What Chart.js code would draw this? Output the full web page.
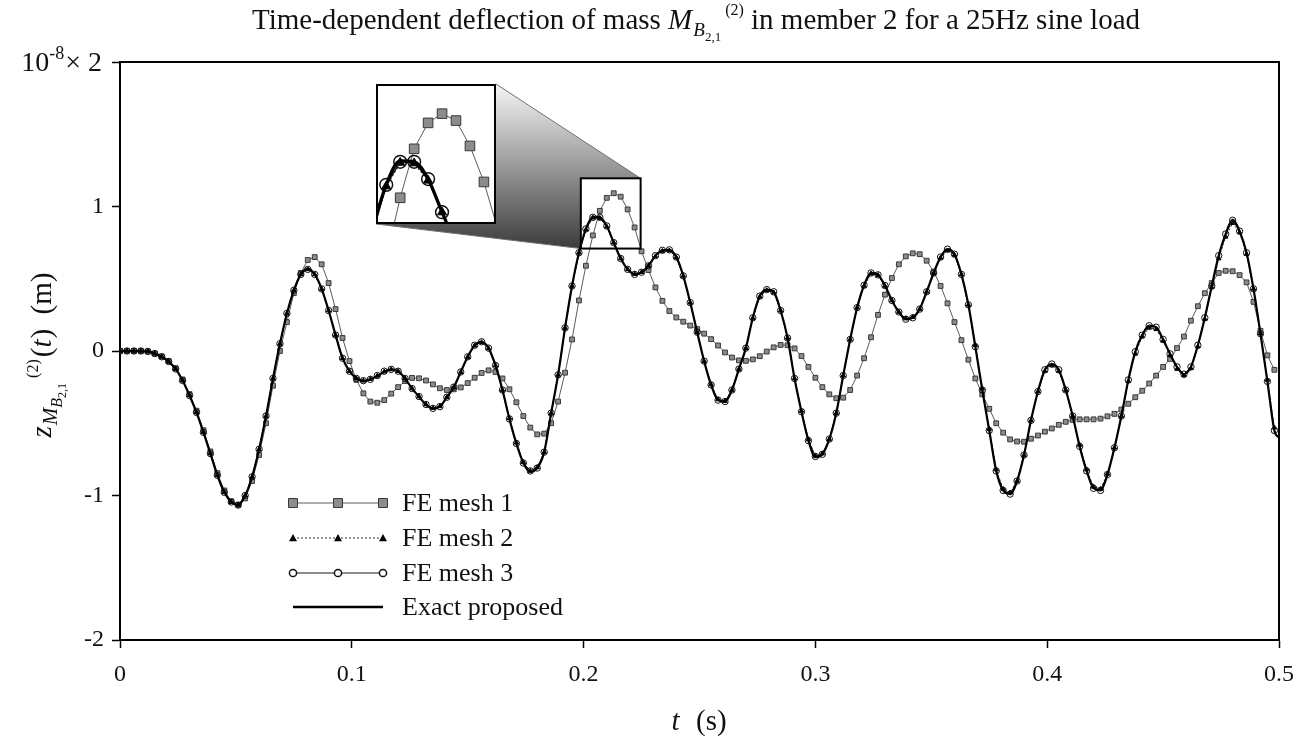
<!DOCTYPE html>
<html>
<head>
<meta charset="utf-8">
<script src="https://cdn.jsdelivr.net/npm/chart.js@4.4.1/dist/chart.umd.min.js"></script>
<style>
  html, body { margin: 0; padding: 0; background: #fff; }
  #wrap { position: relative; width: 1306px; height: 743px; overflow: hidden; }
  #main { position: absolute; left: 0; top: 0; }
  #zoomBox { position: absolute; background: #fff; }
  #zoomBox canvas { display: block; }
</style>
</head>
<body>
<div id="wrap">
  <canvas id="main" width="1306" height="743"></canvas>
  <div id="zoomBox"><canvas id="zoom"></canvas></div>
</div>
<script>
// Sample instants (s)
const timeSteps = [
  0,0.003,0.006,0.009,0.012,0.015,0.018,0.021,0.024,0.027,
  0.03,0.033,0.036,0.039,0.042,0.045,0.048,0.051,0.054,0.057,
  0.06,0.063,0.066,0.069,0.072,0.075,0.078,0.081,0.084,0.087,
  0.09,0.093,0.096,0.099,0.102,0.105,0.108,0.111,0.114,0.117,
  0.12,0.123,0.126,0.129,0.132,0.135,0.138,0.141,0.144,0.147,
  0.15,0.153,0.156,0.159,0.162,0.165,0.168,0.171,0.174,0.177,
  0.18,0.183,0.186,0.189,0.192,0.195,0.198,0.201,0.204,0.207,
  0.21,0.213,0.216,0.219,0.222,0.225,0.228,0.231,0.234,0.237,
  0.24,0.243,0.246,0.249,0.252,0.255,0.258,0.261,0.264,0.267,
  0.27,0.273,0.276,0.279,0.282,0.285,0.288,0.291,0.294,0.297,
  0.3,0.303,0.306,0.309,0.312,0.315,0.318,0.321,0.324,0.327,
  0.33,0.333,0.336,0.339,0.342,0.345,0.348,0.351,0.354,0.357,
  0.36,0.363,0.366,0.369,0.372,0.375,0.378,0.381,0.384,0.387,
  0.39,0.393,0.396,0.399,0.402,0.405,0.408,0.411,0.414,0.417,
  0.42,0.423,0.426,0.429,0.432,0.435,0.438,0.441,0.444,0.447,
  0.45,0.453,0.456,0.459,0.462,0.465,0.468,0.471,0.474,0.477,
  0.48,0.483,0.486,0.489,0.492,0.495,0.498
];

// Deflection in units of 1e-8 m
const exactValues = [
  0,0,0,0,-0.003,-0.018,-0.04,-0.073,-0.124,-0.204,
  -0.308,-0.425,-0.563,-0.71,-0.86,-0.978,-1.045,-1.066,-1.0,-0.87,
  -0.68,-0.45,-0.19,0.05,0.26,0.42,0.53,0.57,0.53,0.43,
  0.28,0.11,-0.05,-0.14,-0.19,-0.208,-0.196,-0.173,-0.143,-0.127,
  -0.14,-0.19,-0.26,-0.315,-0.372,-0.397,-0.385,-0.32,-0.25,-0.145,
  -0.04,0.04,0.064,0.02,-0.1,-0.27,-0.47,-0.64,-0.775,-0.835,
  -0.81,-0.7,-0.43,-0.165,0.16,0.45,0.68,0.845,0.928,0.925,
  0.865,0.75,0.64,0.565,0.53,0.545,0.59,0.66,0.697,0.7,
  0.65,0.52,0.335,0.13,-0.07,-0.235,-0.34,-0.35,-0.27,-0.125,
  0.02,0.23,0.38,0.425,0.41,0.28,0.09,-0.19,-0.42,-0.62,
  -0.735,-0.715,-0.61,-0.43,-0.17,0.08,0.3,0.455,0.54,0.527,
  0.453,0.35,0.27,0.22,0.23,0.29,0.41,0.54,0.65,0.705,
  0.67,0.53,0.32,0.03,-0.27,-0.55,-0.83,-0.965,-0.99,-0.9,
  -0.72,-0.48,-0.28,-0.13,-0.09,-0.13,-0.27,-0.45,-0.66,-0.83,
  -0.95,-0.965,-0.855,-0.67,-0.45,-0.2,-0.005,0.11,0.175,0.165,
  0.08,-0.02,-0.11,-0.16,-0.11,0.04,0.23,0.45,0.66,0.81,
  0.91,0.83,0.68,0.43,0.12,-0.21,-0.55
];
const exactEndTime = 0.5;
const exactEndValue = -0.6;

const mesh1Values = [
  0,0,0,0,-0.003,-0.017,-0.038,-0.07,-0.12,-0.197,
  -0.298,-0.413,-0.548,-0.695,-0.845,-0.965,-1.04,-1.065,-1.02,-0.9,
  -0.72,-0.5,-0.24,0.0,0.2,0.4,0.54,0.63,0.65,0.6,
  0.47,0.29,0.09,-0.07,-0.2,-0.293,-0.35,-0.358,-0.34,-0.295,
  -0.25,-0.208,-0.186,-0.189,-0.204,-0.231,-0.258,-0.27,-0.265,-0.252,
  -0.222,-0.185,-0.152,-0.134,-0.145,-0.19,-0.265,-0.355,-0.45,-0.53,
  -0.577,-0.572,-0.5,-0.35,-0.15,0.08,0.35,0.59,0.8,0.97,
  1.06,1.092,1.068,0.98,0.855,0.69,0.56,0.44,0.347,0.277,
  0.232,0.203,0.176,0.152,0.12,0.082,0.038,-0.01,-0.045,-0.065,
  -0.068,-0.058,-0.036,-0.004,0.025,0.042,0.04,0.018,-0.035,-0.11,
  -0.185,-0.25,-0.3,-0.327,-0.323,-0.27,-0.17,-0.05,0.095,0.25,
  0.39,0.505,0.6,0.655,0.676,0.67,0.625,0.55,0.45,0.33,
  0.2,0.075,-0.06,-0.19,-0.3,-0.4,-0.5,-0.565,-0.612,-0.626,
  -0.628,-0.607,-0.585,-0.558,-0.536,-0.511,-0.49,-0.477,-0.473,-0.473,
  -0.473,-0.468,-0.452,-0.435,-0.405,-0.365,-0.32,-0.275,-0.225,-0.17,
  -0.11,-0.055,0.02,0.1,0.21,0.31,0.4,0.47,0.54,0.555,
  0.552,0.525,0.475,0.34,0.14,-0.03,-0.13
];

const mesh2Values = [
  0,0,0,0,-0.003,-0.018,-0.04,-0.073,-0.124,-0.204,
  -0.308,-0.425,-0.563,-0.71,-0.86,-0.978,-1.045,-1.066,-1.0,-0.87,
  -0.68,-0.45,-0.19,0.05,0.26,0.42,0.53,0.565,0.53,0.43,
  0.28,0.11,-0.05,-0.14,-0.19,-0.206,-0.195,-0.172,-0.143,-0.128,
  -0.14,-0.19,-0.26,-0.315,-0.37,-0.395,-0.383,-0.32,-0.25,-0.147,
  -0.042,0.037,0.06,0.018,-0.1,-0.27,-0.465,-0.635,-0.77,-0.83,
  -0.805,-0.7,-0.43,-0.165,0.16,0.45,0.68,0.84,0.922,0.92,
  0.86,0.75,0.64,0.565,0.532,0.545,0.59,0.655,0.692,0.695,
  0.647,0.52,0.335,0.13,-0.07,-0.232,-0.335,-0.347,-0.27,-0.125,
  0.02,0.228,0.375,0.42,0.405,0.28,0.09,-0.19,-0.415,-0.612,
  -0.725,-0.71,-0.61,-0.43,-0.17,0.08,0.3,0.45,0.535,0.525,
  0.45,0.35,0.27,0.225,0.235,0.29,0.41,0.535,0.645,0.695,
  0.665,0.53,0.32,0.04,-0.26,-0.54,-0.82,-0.955,-0.98,-0.9,
  -0.72,-0.48,-0.28,-0.14,-0.1,-0.14,-0.27,-0.45,-0.65,-0.82,
  -0.94,-0.955,-0.85,-0.67,-0.45,-0.21,-0.02,0.1,0.16,0.15,
  0.07,-0.03,-0.125,-0.17,-0.12,0.03,0.22,0.44,0.64,0.79,
  0.885,0.82,0.67,0.43,0.12,-0.2,-0.53
];

const mesh3Values = [
  0,0,0,0,-0.003,-0.018,-0.04,-0.073,-0.124,-0.204,
  -0.308,-0.425,-0.563,-0.71,-0.86,-0.978,-1.045,-1.066,-1.0,-0.87,
  -0.68,-0.45,-0.19,0.05,0.26,0.42,0.53,0.565,0.53,0.43,
  0.28,0.11,-0.05,-0.14,-0.19,-0.205,-0.196,-0.17,-0.14,-0.127,
  -0.14,-0.19,-0.26,-0.315,-0.37,-0.397,-0.385,-0.32,-0.25,-0.145,
  -0.04,0.04,0.064,0.02,-0.1,-0.27,-0.47,-0.64,-0.775,-0.83,
  -0.81,-0.7,-0.43,-0.165,0.16,0.45,0.68,0.845,0.925,0.925,
  0.865,0.75,0.64,0.565,0.53,0.545,0.59,0.66,0.697,0.7,
  0.65,0.52,0.335,0.13,-0.07,-0.235,-0.34,-0.35,-0.27,-0.125,
  0.02,0.23,0.38,0.425,0.41,0.28,0.09,-0.19,-0.42,-0.62,
  -0.73,-0.715,-0.61,-0.43,-0.17,0.08,0.3,0.455,0.54,0.527,
  0.453,0.35,0.27,0.22,0.23,0.29,0.41,0.54,0.65,0.705,
  0.67,0.53,0.32,0.03,-0.27,-0.55,-0.83,-0.965,-0.99,-0.9,
  -0.72,-0.48,-0.28,-0.13,-0.09,-0.13,-0.27,-0.45,-0.66,-0.83,
  -0.95,-0.965,-0.855,-0.67,-0.45,-0.2,-0.005,0.11,0.175,0.165,
  0.08,-0.02,-0.11,-0.16,-0.11,0.04,0.23,0.45,0.66,0.81,
  0.905,0.83,0.68,0.43,0.12,-0.21,-0.55
];

const xTickValues = [0, 0.1, 0.2, 0.3, 0.4, 0.5];
const xTickLabels = ['0', '0.1', '0.2', '0.3', '0.4', '0.5'];
const yTickValues = [-2, -1, 0, 1, 2];
const yTickLabels = ['-2', '-1', '0', '1', '2'];
const yExponent = '-8';

// Region of the enlarged detail (data units) and where the enlargement sits
const zoomWindow = { tMin: 0.1988, tMax: 0.2246, zMin: 0.709, zMax: 1.195 };
const insetCorner = { t: 0.1105, z: 1.85 };
const insetScale = 2;

const serif = '"Liberation Serif", "Times New Roman", serif';
const font = (size, italic) => (italic ? 'italic ' : '') + size + 'px ' + serif;

const toPoints = (ts, vs) => vs.map((v, i) => ({ x: ts[i], y: v }));

function makeDatasets(k, lw) {
  const clip = k > 1 ? 0 : undefined;
  return [
    {
      label: 'Exact proposed',
      data: toPoints(timeSteps, exactValues).concat([{ x: exactEndTime, y: exactEndValue }]),
      borderColor: '#000', borderWidth: 2.2 * lw, pointRadius: 0,
      cubicInterpolationMode: 'monotone', clip
    },
    {
      label: 'FE mesh 3',
      data: toPoints(timeSteps, mesh3Values),
      borderColor: '#1a1a1a', borderWidth: 1 * lw, tension: 0,
      pointStyle: 'circle', pointRadius: 3.2 * k, pointBorderWidth: 1 * lw,
      pointBorderColor: '#111', pointBackgroundColor: 'rgba(255,255,255,0)', clip
    },
    {
      label: 'FE mesh 2',
      data: toPoints(timeSteps, mesh2Values),
      borderColor: '#333', borderWidth: 1 * lw, borderDash: [2, 2], tension: 0,
      pointStyle: 'triangle', pointRadius: 2.6 * k, pointBorderWidth: 1,
      pointBorderColor: '#000', pointBackgroundColor: '#000', clip
    },
    {
      label: 'FE mesh 1',
      data: toPoints(timeSteps, mesh1Values),
      borderColor: '#5c5c5c', borderWidth: 1, tension: 0,
      pointStyle: 'rect', pointRadius: 3.4 * k, pointBorderWidth: 1,
      pointBorderColor: '#3a3a3a', pointBackgroundColor: '#8c8c8c', clip
    }
  ];
}

function zoomGeometry(chart) {
  const { x, y } = chart.scales;
  const bx0 = x.getPixelForValue(zoomWindow.tMin), bx1 = x.getPixelForValue(zoomWindow.tMax);
  const by0 = y.getPixelForValue(zoomWindow.zMax), by1 = y.getPixelForValue(zoomWindow.zMin);
  const ix0 = Math.round(x.getPixelForValue(insetCorner.t));
  const iy0 = Math.round(y.getPixelForValue(insetCorner.z));
  const iw = Math.round((bx1 - bx0) * insetScale), ih = Math.round((by1 - by0) * insetScale);
  return { bx0, bx1, by0, by1, ix0, iy0, ix1: ix0 + iw, iy1: iy0 + ih, iw, ih };
}

// Mixed-style text runs drawn along one baseline
function runWidth(ctx, runs) {
  let w = 0;
  for (const r of runs) { ctx.font = r.font; w += ctx.measureText(r.text).width + (r.gap || 0); }
  return w;
}
function drawRuns(ctx, runs, x, y) {
  for (const r of runs) {
    ctx.font = r.font;
    ctx.fillText(r.text, x, y + (r.dy || 0));
    x += ctx.measureText(r.text).width + (r.gap || 0);
  }
}

const titleRuns = [
  { text: 'Time-dependent deflection of mass ', font: font(29) },
  { text: 'M', font: font(29, true), gap: 1 },
  { text: 'B', font: font(19, true), dy: 7 },
  { text: '2,1', font: font(13), dy: 12, gap: 4 },
  { text: '(2)', font: font(16), dy: -14 },
  { text: ' in member 2 for a 25Hz sine load', font: font(29) }
];
const yTitleRuns = [
  { text: 'z', font: font(29, true), gap: 1 },
  { text: 'M', font: font(21, true), dy: 6 },
  { text: 'B', font: font(16, true), dy: 11 },
  { text: '2,1', font: font(12), dy: 15, gap: 5 },
  { text: '(2)', font: font(16), dy: -13, gap: 2 },
  { text: '(', font: font(29) },
  { text: 't', font: font(29, true), gap: 1 },
  { text: ')  (m)', font: font(29) }
];
const xTitleRuns = [
  { text: 't', font: font(29, true), gap: 2 },
  { text: '  (s)', font: font(29) }
];
const titleCenterX = 696;
const xTitleCenterX = 699;

function marker(ctx, style, x, y, r) {
  ctx.beginPath();
  if (style === 'rect') {
    ctx.rect(x - r, y - r, 2 * r, 2 * r);
    ctx.fillStyle = '#8c8c8c'; ctx.fill();
    ctx.strokeStyle = '#3a3a3a'; ctx.lineWidth = 1; ctx.stroke();
  } else if (style === 'triangle') {
    ctx.moveTo(x, y - r); ctx.lineTo(x + r, y + r * 0.8); ctx.lineTo(x - r, y + r * 0.8); ctx.closePath();
    ctx.fillStyle = '#000'; ctx.fill();
  } else if (style === 'circle') {
    ctx.arc(x, y, r, 0, Math.PI * 2);
    ctx.fillStyle = '#fff'; ctx.fill();
    ctx.strokeStyle = '#111'; ctx.lineWidth = 1.5; ctx.stroke();
  }
}

const decorPlugin = {
  id: 'decor',
  beforeDatasetsDraw(chart) {
    const ctx = chart.ctx;
    const g = zoomGeometry(chart);
    ctx.save();
    const grad = ctx.createLinearGradient(0, g.iy0, 0, g.by1);
    grad.addColorStop(0, '#f6f6f6');
    grad.addColorStop(1, '#3c3c3c');
    ctx.beginPath();
    ctx.moveTo(g.ix1, g.iy0);
    ctx.lineTo(g.bx1, g.by0);
    ctx.lineTo(g.bx0, g.by1);
    ctx.lineTo(g.ix0, g.iy1);
    ctx.closePath();
    ctx.fillStyle = grad;
    ctx.fill();
    ctx.strokeStyle = '#707070';
    ctx.lineWidth = 1;
    ctx.stroke();
    ctx.fillStyle = '#fff';
    ctx.fillRect(g.bx0, g.by0, g.bx1 - g.bx0, g.by1 - g.by0);
    ctx.restore();
  },
  afterDatasetsDraw(chart) {
    const ctx = chart.ctx;
    const g = zoomGeometry(chart);
    ctx.save();
    ctx.strokeStyle = '#000';
    ctx.lineWidth = 2;
    ctx.strokeRect(g.bx0, g.by0, g.bx1 - g.bx0, g.by1 - g.by0);
    ctx.restore();
  },
  afterDraw(chart) {
    const ctx = chart.ctx;
    const a = chart.chartArea;
    const ys = chart.scales.y;
    ctx.save();
    // closing frame lines
    ctx.strokeStyle = '#000';
    ctx.lineWidth = 2;
    ctx.beginPath();
    ctx.moveTo(a.left - 1, a.top);
    ctx.lineTo(a.right, a.top);
    ctx.lineTo(a.right, a.bottom);
    ctx.stroke();

    ctx.fillStyle = '#111';
    ctx.textBaseline = 'alphabetic';
    ctx.textAlign = 'left';

    // top tick label carries the exponent
    const topRuns = [
      { text: '10', font: font(28) },
      { text: yExponent, font: font(18), dy: -12, gap: 1 },
      { text: '\u00d7 2', font: font(28) }
    ];
    const tw = runWidth(ctx, topRuns);
    drawRuns(ctx, topRuns, a.left - 18 - tw, ys.getPixelForValue(2) + 9);

    // title
    const ttw = runWidth(ctx, titleRuns);
    drawRuns(ctx, titleRuns, titleCenterX - ttw / 2, 29);

    // x axis title
    const xw = runWidth(ctx, xTitleRuns);
    drawRuns(ctx, xTitleRuns, xTitleCenterX - xw / 2, 730);

    // y axis title, rotated
    ctx.save();
    ctx.translate(51, (a.top + a.bottom) / 2 + 4);
    ctx.rotate(-Math.PI / 2);
    const yw = runWidth(ctx, yTitleRuns);
    drawRuns(ctx, yTitleRuns, -yw / 2, 0);
    ctx.restore();

    // legend
    const lx0 = a.left + 173, lx1 = a.left + 263, ltx = a.left + 282;
    const rows = [
      { y: a.top + 441, label: 'FE mesh 1', color: '#5c5c5c', width: 1, dash: [], mark: 'rect', r: 4.5 },
      { y: a.top + 476, label: 'FE mesh 2', color: '#333', width: 1, dash: [2, 2], mark: 'triangle', r: 4 },
      { y: a.top + 511, label: 'FE mesh 3', color: '#1a1a1a', width: 1.2, dash: [], mark: 'circle', r: 3.6 },
      { y: a.top + 545, label: 'Exact proposed', color: '#000', width: 2.4, dash: [], mark: null }
    ];
    for (const row of rows) {
      ctx.beginPath();
      ctx.setLineDash(row.dash);
      ctx.strokeStyle = row.color;
      ctx.lineWidth = row.width;
      ctx.moveTo(lx0, row.y);
      ctx.lineTo(lx1, row.y);
      ctx.stroke();
      ctx.setLineDash([]);
      if (row.mark) {
        for (const mx of [lx0, (lx0 + lx1) / 2, lx1]) marker(ctx, row.mark, mx, row.y, row.r);
      }
      ctx.fillStyle = '#111';
      ctx.font = font(26);
      ctx.textBaseline = 'middle';
      ctx.fillText(row.label, ltx, row.y + 1);
    }
    ctx.restore();
  }
};

const tickFont = { family: serif, size: 24 };

const mainChart = new Chart(document.getElementById('main'), {
  type: 'line',
  data: { datasets: makeDatasets(1, 1) },
  options: {
    responsive: false,
    animation: false,
    devicePixelRatio: 1,
    events: [],
    layout: { autoPadding: false, padding: { top: 62, right: 24, left: 0, bottom: 0 } },
    plugins: { legend: { display: false }, title: { display: false }, tooltip: { enabled: false } },
    scales: {
      x: {
        type: 'linear', min: 0, max: 0.5,
        afterBuildTicks: s => { s.ticks = xTickValues.map(v => ({ value: v })); },
        afterFit: s => { s.height = 103; },
        ticks: {
          font: tickFont, color: '#111', padding: 12, maxRotation: 0, autoSkip: false,
          callback: (v, i) => xTickLabels[i]
        },
        grid: { drawOnChartArea: false, drawTicks: true, tickLength: 8, tickWidth: 1.5, tickColor: '#000' },
        border: { display: true, color: '#000', width: 2 }
      },
      y: {
        type: 'linear', min: -2, max: 2,
        afterBuildTicks: s => { s.ticks = yTickValues.map(v => ({ value: v })); },
        afterFit: s => { s.width = 120; },
        ticks: {
          font: tickFont, color: '#111', padding: 8, autoSkip: false,
          callback: (v, i) => (yTickValues[i] === 2 ? '' : yTickLabels[i])
        },
        grid: { drawOnChartArea: false, drawTicks: true, tickLength: 8, tickWidth: 1.5, tickColor: '#000' },
        border: { display: true, color: '#000', width: 2 }
      }
    }
  },
  plugins: [decorPlugin]
});

// Enlarged view of the zoom window, drawn as a second chart over the main one
const geo = zoomGeometry(mainChart);
const box = document.getElementById('zoomBox');
box.style.left = geo.ix0 + 'px';
box.style.top = geo.iy0 + 'px';
box.style.width = geo.iw + 'px';
box.style.height = geo.ih + 'px';
const zoomCanvas = document.getElementById('zoom');
zoomCanvas.width = geo.iw;
zoomCanvas.height = geo.ih;

new Chart(zoomCanvas, {
  type: 'line',
  data: { datasets: makeDatasets(insetScale, 1.5) },
  options: {
    responsive: false,
    animation: false,
    devicePixelRatio: 1,
    events: [],
    layout: { autoPadding: false, padding: 0 },
    plugins: { legend: { display: false }, title: { display: false }, tooltip: { enabled: false } },
    scales: {
      x: { type: 'linear', display: false, min: zoomWindow.tMin, max: zoomWindow.tMax },
      y: { type: 'linear', display: false, min: zoomWindow.zMin, max: zoomWindow.zMax }
    }
  },
  plugins: [{
    id: 'insetFrame',
    beforeDraw(chart) {
      const c = chart.ctx;
      c.save(); c.fillStyle = '#fff'; c.fillRect(0, 0, chart.width, chart.height); c.restore();
    },
    afterDraw(chart) {
      const c = chart.ctx;
      c.save();
      c.strokeStyle = '#000';
      c.lineWidth = 2;
      c.strokeRect(1, 1, chart.width - 2, chart.height - 2);
      c.restore();
    }
  }]
});
</script>
</body>
</html>
